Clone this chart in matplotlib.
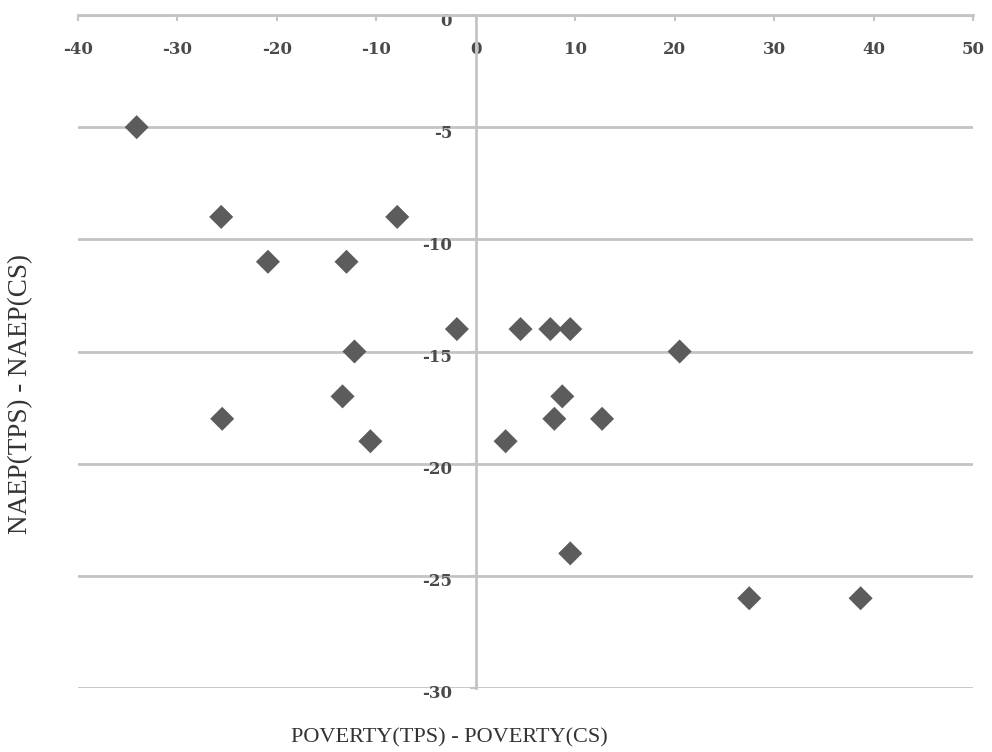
import matplotlib
matplotlib.use("Agg")
import matplotlib.pyplot as plt
import matplotlib.transforms as mtransforms

poverty_diff = [-34.1, -25.6, -7.9, -20.9, -13.0, -1.9, 4.5, 7.5, 9.5, 20.5, -12.2,
                -13.4, 8.7, -25.5, 7.9, 12.7, -10.6, 3.0, 9.5, 27.5, 38.7]
naep_diff = [-5, -9, -9, -11, -11, -14, -14, -14, -14, -15, -15,
             -17, -17, -18, -18, -18, -19, -19, -24, -26, -26]
x_ticks = [-40, -30, -20, -10, 0, 10, 20, 30, 40, 50]
y_ticks = [0, -5, -10, -15, -20, -25, -30]

plt.rcParams['font.family'] = ['DejaVu Serif', 'Liberation Serif']

W, H = 992, 752
fig = plt.figure(figsize=(W / 100, H / 100), dpi=100)
ax = fig.add_axes([78 / W, 1 - 688 / H, (973 - 78) / W, (688 - 15) / H])
ax.set_xlim(-40, 50)
ax.set_ylim(-30, 0)

grid_c = '#c4c4c4'
lab_c = '#4a4a4a'
for yv in y_ticks:
    ax.axhline(yv, color=grid_c, lw=2.0, zorder=1)

for s in ['bottom', 'right']:
    ax.spines[s].set_visible(False)
ax.spines['top'].set_color(grid_c)
ax.spines['top'].set_linewidth(2.0)
ax.spines['left'].set_position(('data', 0))
ax.spines['left'].set_color(grid_c)
ax.spines['left'].set_linewidth(2.0)

ax.xaxis.set_ticks_position('top')
ax.set_xticks(x_ticks)
ax.set_xticklabels([str(v) for v in x_ticks])
ax.tick_params(axis='x', direction='in', length=4, width=1.5, color=grid_c,
               pad=-31, labelsize=12, labelcolor=lab_c)

ax.set_yticks(y_ticks)
ax.set_yticklabels([str(v) for v in y_ticks])
ax.tick_params(axis='y', direction='out', length=4, width=1.5, color=grid_c,
               pad=13, labelsize=12, labelcolor=lab_c)
shift = mtransforms.ScaledTranslation(0, -4 / 100, fig.dpi_scale_trans)
for lab in ax.get_yticklabels():
    lab.set_fontweight('bold')
    lab.set_transform(lab.get_transform() + shift)
for lab in ax.get_xticklabels():
    lab.set_fontweight('bold')

ax.scatter(poverty_diff, naep_diff, marker='D', s=150, color='#5c5c5c',
           edgecolors='none', zorder=3, clip_on=False)

fig.text(449 / W, 1 - 738 / H, 'POVERTY(TPS) - POVERTY(CS)', ha='center', va='center',
         fontsize=16, color='#333333', family=['Liberation Serif', 'DejaVu Serif'])
fig.text(21 / W, 1 - 394 / H, 'NAEP(TPS) - NAEP(CS)', ha='center', va='center',
         rotation=90, fontsize=19.5, color='#333333', family=['Liberation Serif', 'DejaVu Serif'])

fig.savefig('out.png', dpi=100, facecolor='white')
